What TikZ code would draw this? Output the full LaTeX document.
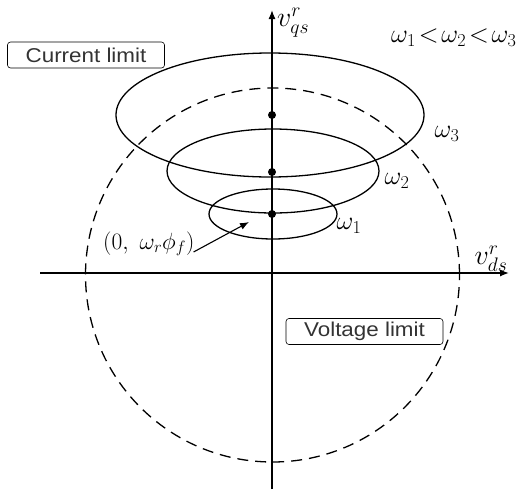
\RequirePackage{fix-cm}
\documentclass[tikz,border=0pt]{standalone}
\usepackage{fontspec}
\newfontfamily\arialfont[FakeStretch=1.12]{Liberation Sans}
\usetikzlibrary{arrows.meta}
\begin{document}
\begin{tikzpicture}[x=1pt,y=-1pt,
  axis/.style={line width=1.3pt,-{Latex[length=9pt,width=7pt]}},
  curve/.style={line width=1.3pt},
  dashcurve/.style={line width=1.3pt,dash pattern=on 11pt off 7pt},
  limitbox/.style={draw,rounded corners=3pt,line width=0.6pt,inner sep=2pt,font=\arialfont\fontsize{20}{20}\selectfont,text=black!80,minimum height=26pt,minimum width=157pt},
  dotnode/.style={circle,fill=black,inner sep=0pt,minimum size=8pt},
  lbl/.style={inner sep=0pt,font=\fontsize{26}{26}\selectfont}
]
\useasboundingbox (0,0) rectangle (531,491);
% axes
\coordinate (xs) at (40,273);
\coordinate (xe) at (509,273);
\coordinate (ys) at (272,489);
\coordinate (ye) at (272,10);
\draw[axis] (xs) -- (xe);
\draw[axis] (ys) -- (ye);
% voltage / current curves
\draw[dashcurve] (272.5,275) circle[radius=187pt];
\draw[curve] (270,115) ellipse[x radius=154pt,y radius=62pt];
\draw[curve] (273,171) ellipse[x radius=106pt,y radius=42pt];
\draw[curve] (273,214) ellipse[x radius=64pt,y radius=25pt];
% centres
\node[dotnode] (c3) at (272,115) {};
\node[dotnode] (c2) at (272,172) {};
\node[dotnode] (c1) at (272,214) {};
% labels
\node[lbl] (w3) at (447,134) {$\omega_3$};
\node[lbl] (w2) at (397,181) {$\omega_2$};
\node[lbl] (w1) at (349,226) {$\omega_1$};
\node[lbl,anchor=west,font=\fontsize{26}{26}\selectfont] (order) at (391,38) {$\omega_1\!<\!\omega_2\!<\!\omega_3$};
\node[lbl,anchor=west,font=\fontsize{28}{28}\selectfont] (vq) at (277,23) {$v_{qs}^{r}$};
\node[lbl,font=\fontsize{28}{28}\selectfont] (vd) at (491,259) {$v_{ds}^{r}$};
\node[lbl,anchor=west,font=\fontsize{23.5}{23.5}\selectfont] (pt) at (103,244) {$(0,\ \omega_r\phi_f)$};
\coordinate (ptip) at (249,222);
\draw[line width=1.1pt,-{Latex[length=9pt,width=7pt]}] (pt.east) ++(-1pt,-8pt) coordinate (pst) -- (ptip);
\node[limitbox] (cl) at (86,55) {Current limit};
\node[limitbox] (vl) at (364.5,331.5) {Voltage limit};
\end{tikzpicture}
\end{document}
